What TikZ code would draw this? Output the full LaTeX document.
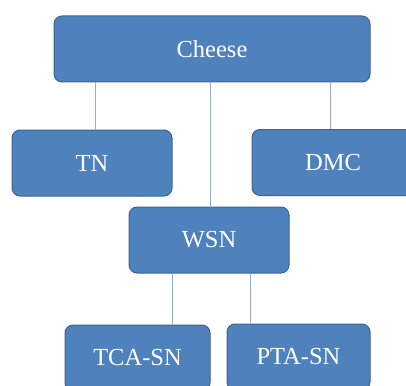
\documentclass[tikz,border=0pt]{standalone}
\usepackage{fontspec}
\setmainfont{Liberation Serif}
\definecolor{boxfill}{HTML}{4F81BD}
\definecolor{boxedge}{HTML}{3B6594}
\definecolor{linkcol}{HTML}{97ABC6}
\begin{document}
\begin{tikzpicture}[x=1pt,y=-1pt,
  unit/.style={draw=boxedge,line width=1pt,fill=boxfill,rounded corners=8pt,
    text=white,font=\fontsize{24.5}{28}\selectfont,inner sep=0pt,
    minimum height=66pt},
  link/.style={draw=linkcol,line width=1pt}]
\useasboundingbox (0,0) rectangle (406,385);
\clip (0,0) rectangle (406,385);
% tree nodes
\node[unit,minimum width=316pt] (cheese) at (212,49) {Cheese};
\node[unit,minimum width=160pt] (tn)     at (92,163) {TN};
\node[unit,minimum width=162pt] (dmc)    at (333,162.5) {DMC};
\node[unit,minimum width=160pt] (wsn)    at (209,240) {WSN};
\node[unit,minimum width=145pt] (tca)    at (137.5,358) {TCA-SN};
\node[unit,minimum width=143pt] (pta)    at (298.5,357) {PTA-SN};
% connectors between levels
\draw[link] ([xshift=3pt]tn.north |- cheese.south) -- ([xshift=3pt]tn.north);
\draw[link] ([xshift=-3pt]dmc.north |- cheese.south) -- ([xshift=-3pt]dmc.north);
\draw[link] ([xshift=1pt]wsn.north |- cheese.south) -- ([xshift=1pt]wsn.north);
\draw[link] ([xshift=-37pt]wsn.south) -- ([xshift=-37pt]wsn.south |- tca.north);
\draw[link] ([xshift=41pt]wsn.south) -- ([xshift=41pt]wsn.south |- pta.north);
\end{tikzpicture}
\end{document}
